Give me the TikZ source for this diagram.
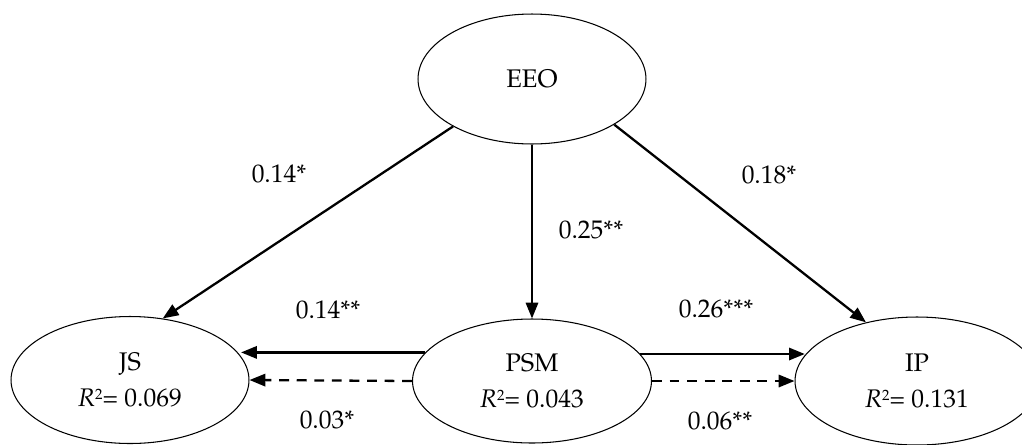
\documentclass[tikz,border=0pt]{standalone}
\usepackage[T1]{fontenc}
\usepackage{mathpazo}
\usetikzlibrary{arrows.meta,calc,shapes.geometric}
\newcommand{\rsq}{\textit{R}\raisebox{0.55ex}{\fontsize{8.5}{8.5}\selectfont 2}}
\tikzset{
  var/.style={draw, ellipse, line width=0.6pt, inner sep=0pt, align=center,
    font=\fontsize{14.5}{20}\selectfont},
  lab/.style={inner sep=0pt, font=\fontsize{14.5}{17}\selectfont},
  arr/.style={line width=1.3pt, -{Triangle[length=9pt,width=7pt]}},
  darr/.style={arr, dash pattern=on 5.6pt off 4.4pt}
}
\begin{document}
\begin{tikzpicture}[x=0.02cm,y=-0.02cm]
\clip (0,0) rectangle (1022,444);
\node[var, minimum width=4.56cm, minimum height=2.6cm] (EEO) at (532,79) {EEO};
\node[var, minimum width=4.76cm, minimum height=2.54cm] (JS) at (130,380) {JS\\\rsq= 0.069};
\node[var, minimum width=4.78cm, minimum height=2.48cm] (PSM) at (532,381) {PSM\\\rsq= 0.043};
\node[var, minimum width=4.88cm, minimum height=2.56cm] (IP) at (917,381) {IP\\\rsq= 0.131};

\draw[arr] (EEO.211.6) -- (JS.62.7);
\draw[arr] (EEO.south) -- (EEO.south |- PSM.north);
\draw[arr] (EEO.331) -- (IP.131.9);
\draw[arr] (PSM.165.3) -- (PSM.165.3 -| JS.12);
\draw[arr] (PSM.14) -- (PSM.14 -| IP.167);
\draw[darr] (PSM.west) -- (JS.east);
\draw[darr] (PSM.east) -- (IP.west);

\node[lab] (l1) at (279,174) {0.14*};
\node[lab] (l2) at (591,230) {0.25**};
\node[lab] (l3) at (769,175) {0.18*};
\node[lab] (l4) at (328,310) {0.14**};
\node[lab] (l5) at (716,309) {0.26***};
\node[lab] (l6) at (327,420) {0.03*};
\node[lab] (l7) at (720,421) {0.06**};
\end{tikzpicture}
\end{document}
